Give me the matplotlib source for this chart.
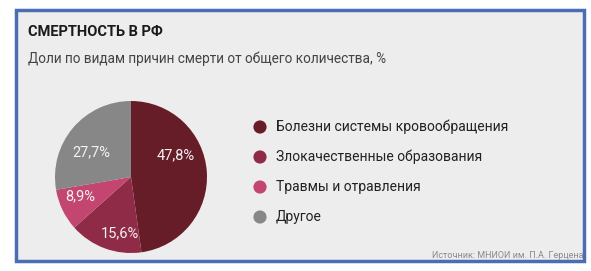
import numpy as np
import matplotlib.pyplot as plt
from matplotlib.patches import Rectangle

plt.rcParams['font.family'] = ['Roboto', 'DejaVu Sans']

# Data
categories = ['Болезни системы кровообращения', 'Злокачественные образования',
              'Травмы и отравления', 'Другое']
shares = [47.8, 15.6, 8.9, 27.7]
labels = ['47,8%', '15,6%', '8,9%', '27,7%']
colors = ['#661d28', '#8f2a47', '#c2466f', '#878787']

W, H = 591, 271
fig = plt.figure(figsize=(W / 100, H / 100), dpi=100)
fig.patch.set_facecolor('white')

# panel with blue frame
fig.patches.append(Rectangle((16 / W, 10 / H), 568 / W, 251 / H, transform=fig.transFigure,
                             facecolor='#ededed', edgecolor='#4a6db3', linewidth=2.5,
                             zorder=-5))

fig.text(28 / W, 1 - 32 / H, 'СМЕРТНОСТЬ В РФ', fontsize=10.5, fontweight='bold',
         color='#1a1a1a', va='center')
fig.text(28 / W, 1 - 59 / H, 'Доли по видам причин смерти от общего количества, %',
         fontsize=9.8, color='#444444', va='center')

# pie
cx, cy, r = 131, 177, 76
ax = fig.add_axes([(cx - r) / W, (H - cy - r) / H, 2 * r / W, 2 * r / H])
wedges, _ = ax.pie(shares, colors=colors, startangle=90, counterclock=False,
                   wedgeprops=dict(linewidth=0))
# label placement: radius and angle shift from the wedge middle
label_r = [0.66, 0.75, 0.72, 0.61]
label_shift = [22, 9, -5, 8]
ang = 90
for lab, s, rr, sh in zip(labels, shares, label_r, label_shift):
    mid = np.deg2rad(ang - s * 3.6 / 2 + sh)
    ang -= s * 3.6
    ax.text(rr * np.cos(mid), rr * np.sin(mid), lab, ha='center', va='center',
            color='#f2f2f2', fontsize=10.5)
ax.set_xlim(-1, 1)
ax.set_ylim(-1, 1)
ax.set_aspect('equal')
ax.axis('off')

# legend
ys = [127, 157, 187, 217]
lax = fig.add_axes([0, 0, 1, 1], zorder=-1)
lax.patch.set_alpha(0)
lax.set_xlim(0, W)
lax.set_ylim(H, 0)
lax.axis('off')
for y, c, name in zip(ys, colors, categories):
    lax.scatter([260], [y], s=90, color=c, edgecolors='none')
    lax.text(276, y, name, fontsize=10, color='#222222', va='center')

fig.text(584 / W, 1 - 255 / H, 'Источник: МНИОИ им. П.А. Герцена', fontsize=6.5,
         color='#8a8a8a', ha='right', va='center')

fig.savefig('out.png', dpi=100)
